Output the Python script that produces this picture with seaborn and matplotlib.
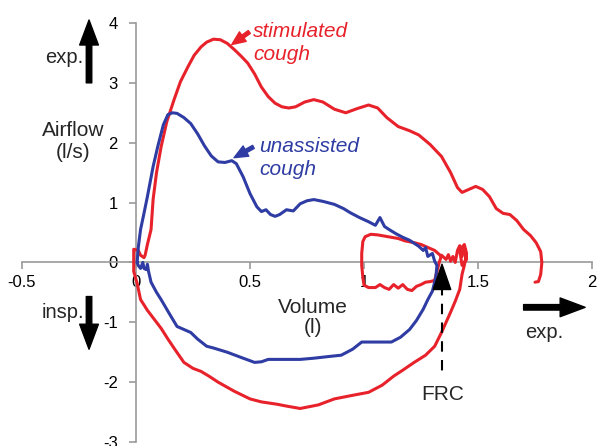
import matplotlib
matplotlib.use("Agg")
import matplotlib.pyplot as plt
import seaborn as sns
import pandas as pd

# ---- data ----
red_volume = [1.34, 1.31, 1.28, 1.25, 1.22, 1.18, 1.15, 1.12, 1.09, 1.06, 1.03, 1.005, 0.995, 0.99, 0.99, 0.995,
              1.0, 1.02, 1.05, 1.07, 1.09, 1.11, 1.13, 1.15, 1.17, 1.19, 1.21, 1.23, 1.25, 1.27, 1.29, 1.31,
              1.32, 1.33, 1.34, 1.36, 1.37, 1.38, 1.39, 1.40, 1.41, 1.42, 1.43, 1.44, 1.45, 1.43, 1.42, 1.44,
              1.45, 1.44, 1.43, 1.42, 1.40, 1.38, 1.36, 1.34, 1.31, 1.27, 1.22, 1.17, 1.13, 1.08, 1.02, 0.95,
              0.87, 0.80, 0.72, 0.66, 0.62, 0.55, 0.50, 0.43, 0.36, 0.32, 0.285, 0.25, 0.21, 0.17, 0.14, 0.11,
              0.08, 0.05, 0.02, 0.005, -0.01, -0.01, -0.01, 0.01, 0.02, 0.035, 0.04, 0.05, 0.066, 0.075, 0.09, 0.11,
              0.135, 0.167, 0.195, 0.228, 0.255, 0.285, 0.31, 0.34, 0.37, 0.40, 0.43, 0.46, 0.49, 0.52, 0.55, 0.58,
              0.61, 0.64, 0.67, 0.70, 0.74, 0.78, 0.82, 0.87,
              0.92, 0.97, 1.02, 1.06, 1.10, 1.15, 1.20, 1.24, 1.29, 1.34, 1.38, 1.41, 1.43, 1.46, 1.49, 1.52, 1.55,
              1.58, 1.61, 1.64, 1.67, 1.70, 1.73, 1.755, 1.775, 1.78, 1.775, 1.765, 1.75]
red_flow = [0.1, 0.2, 0.25, 0.3, 0.33, 0.36, 0.4, 0.42, 0.44, 0.46, 0.47, 0.43, 0.35, 0.15, -0.05, -0.25,
            -0.38, -0.42, -0.42, -0.37, -0.42, -0.45, -0.37, -0.43, -0.37, -0.45, -0.47, -0.4, -0.37, -0.33, -0.32, -0.3,
            -0.15, 0.0, 0.12, 0.05, 0.13, 0.02, 0.1, 0.0, 0.2, 0.28, 0.1, 0.25, 0.05, -0.05, 0.2, 0.3,
            0.15, -0.05, -0.2, -0.45, -0.65, -0.83, -1.0, -1.17, -1.4, -1.55, -1.67, -1.8, -1.9, -2.05, -2.17, -2.22,
            -2.28, -2.38, -2.44, -2.4, -2.37, -2.33, -2.28, -2.15, -2.0, -1.9, -1.82, -1.77, -1.67, -1.45, -1.28, -1.1,
            -0.95, -0.8, -0.62, -0.35, -0.15, 0.0, 0.22, 0.2, 0.12, 0.08, 0.12, 0.3, 0.55, 1.05, 1.5, 1.93,
            2.35, 2.72, 3.02, 3.27, 3.46, 3.6, 3.68, 3.73, 3.72, 3.66, 3.56, 3.45, 3.33, 3.15, 2.93, 2.77,
            2.66, 2.6, 2.58, 2.6, 2.68, 2.72, 2.68, 2.56,
            2.5, 2.57, 2.63, 2.58, 2.42, 2.27, 2.2, 2.13, 1.97, 1.77, 1.5, 1.25, 1.17, 1.22, 1.27, 1.22, 1.1,
            0.9, 0.82, 0.8, 0.7, 0.55, 0.45, 0.33, 0.18, 0.0, -0.2, -0.32, -0.33]

blue_volume = [0.005, 0.01, 0.02, 0.035, 0.05, 0.075, 0.095, 0.12, 0.14, 0.16, 0.18, 0.21, 0.24, 0.27, 0.30, 0.33,
               0.36, 0.39, 0.42, 0.44, 0.47, 0.50, 0.53, 0.55, 0.57, 0.59, 0.61, 0.63, 0.66, 0.69, 0.72, 0.75,
               0.78, 0.82, 0.87, 0.91, 0.94, 0.98, 1.02, 1.05, 1.07, 1.09, 1.11, 1.14, 1.17, 1.20, 1.22, 1.24,
               1.26, 1.27, 1.28, 1.30, 1.31, 1.32, 1.315, 1.30, 1.28, 1.26, 1.23, 1.20, 1.16, 1.12, 1.06, 0.99, 0.95,
               0.90, 0.85, 0.78, 0.72, 0.65, 0.58, 0.55, 0.52, 0.47, 0.40, 0.34, 0.31, 0.27, 0.24, 0.21, 0.18,
               0.15, 0.13, 0.11, 0.09, 0.066, 0.055, 0.05, 0.045, 0.035, 0.03, 0.02, 0.01, 0.005]
blue_flow = [0.0, 0.25, 0.55, 0.82, 1.1, 1.6, 1.93, 2.3, 2.47, 2.5, 2.49, 2.42, 2.32, 2.15, 1.95, 1.78,
             1.68, 1.67, 1.7, 1.65, 1.43, 1.15, 0.93, 0.85, 0.88, 0.8, 0.77, 0.8, 0.88, 0.86, 0.98, 1.03,
             1.05, 1.02, 0.97, 0.9, 0.83, 0.75, 0.68, 0.62, 0.75, 0.6, 0.55, 0.48, 0.42, 0.37, 0.32, 0.27,
             0.2, 0.25, 0.1, 0.15, 0.02, -0.05, -0.25, -0.48, -0.62, -0.78, -0.97, -1.12, -1.25, -1.33, -1.33, -1.33, -1.45,
             -1.55, -1.57, -1.6, -1.62, -1.62, -1.62, -1.66, -1.67, -1.6, -1.5, -1.43, -1.4, -1.28, -1.17, -1.12, -1.07,
             -0.88, -0.75, -0.62, -0.5, -0.33, -0.15, -0.03, -0.12, -0.1, 0.0, -0.1, -0.05, 0.0]

x_ticks = [-0.5, 0, 0.5, 1, 1.5, 2]
x_tick_labels = ["-0.5", "0", "0.5", "1", "1.5", "2"]
y_ticks = [-3, -2, -1, 0, 1, 2, 3, 4]
y_tick_labels = ["-3", "-2", "-1", "0", "1", "2", "3", "4"]

RED = "#e8222b"
BLUE = "#2e3ca3"
GRAY = "#9a9a9a"

sns.set_theme(style="white")
plt.rcParams["font.family"] = ["Liberation Sans", "DejaVu Sans"]

fig = plt.figure(figsize=(5.97, 4.46), dpi=100)
ax = fig.add_axes([22 / 597, 4 / 446, 570 / 597, 419 / 446])

red_df = pd.DataFrame({"volume": red_volume, "flow": red_flow})
blue_df = pd.DataFrame({"volume": blue_volume, "flow": blue_flow})
sns.lineplot(data=red_df, x="volume", y="flow", sort=False, estimator=None, color=RED, lw=2.2, ax=ax, zorder=3,
             solid_joinstyle="round", solid_capstyle="round")
sns.lineplot(data=blue_df, x="volume", y="flow", sort=False, estimator=None, color=BLUE, lw=2.2, ax=ax, zorder=4,
             solid_joinstyle="round", solid_capstyle="round")

ax.set_xlim(-0.5, 2)
ax.set_ylim(-3, 4)
ax.set_xlabel("")
ax.set_ylabel("")
for s in ["top", "right"]:
    ax.spines[s].set_visible(False)
ax.spines["left"].set_position(("data", 0))
ax.spines["bottom"].set_position(("data", 0))
for s in ["left", "bottom"]:
    ax.spines[s].set_color(GRAY)
    ax.spines[s].set_linewidth(1.2)
    ax.spines[s].set_zorder(1)
ax.set_xticks(x_ticks)
ax.set_xticklabels(x_tick_labels)
ax.set_yticks(y_ticks)
ax.set_yticklabels(y_tick_labels)
ax.tick_params(axis="both", direction="out", length=5, width=1.2, color=GRAY,
               labelsize=12, labelcolor="black", bottom=True, left=True)
ax.tick_params(axis="y", pad=8)
ax.tick_params(axis="x", pad=4)
ax.grid(False)

big = dict(arrowstyle="simple,head_length=1.0,head_width=0.75,tail_width=0.22",
           color="black", mutation_scale=18, shrinkA=0, shrinkB=0)
ax.annotate("", xy=(-0.206, 4.05), xytext=(-0.206, 3.0), arrowprops=big, annotation_clip=False)
ax.annotate("", xy=(-0.206, -1.45), xytext=(-0.206, -0.57), arrowprops=big, annotation_clip=False)
ax.annotate("", xy=(1.97, -0.75), xytext=(1.70, -0.75), arrowprops=big, annotation_clip=False)

ax.text(-0.316, 3.43, "exp.", ha="center", va="center", fontsize=14.5)
ax.text(-0.32, -0.83, "insp.", ha="center", va="center", fontsize=14.5)
ax.text(1.79, -1.17, "exp.", ha="center", va="center", fontsize=14.5)
ax.text(-0.276, 2.02, "Airflow\n(l/s)", ha="center", va="center", fontsize=15, linespacing=1.15)
ax.text(0.776, -0.92, "Volume\n(l)", ha="center", va="center", fontsize=15, linespacing=1.1)

# FRC marker
ax.plot([1.342, 1.342], [-0.38, -1.92], color="black", lw=1.5, dashes=(5, 4), zorder=5)
ax.annotate("", xy=(1.342, -0.03), xytext=(1.342, -0.38),
            arrowprops=dict(arrowstyle="simple,head_length=1.3,head_width=0.9,tail_width=0.1",
                            color="black", mutation_scale=14, shrinkA=0, shrinkB=0), zorder=6)
ax.text(1.346, -2.2, "FRC", ha="center", va="center", fontsize=15)

small = "simple,head_length=0.7,head_width=0.6,tail_width=0.18"
ax.annotate("", xy=(0.42, 3.64), xytext=(0.497, 3.85),
            arrowprops=dict(arrowstyle=small, color=RED, mutation_scale=14, shrinkA=0, shrinkB=0))
ax.text(0.513, 3.85, "stimulated", color=RED, style="italic", ha="left", va="center", fontsize=15)
ax.text(0.513, 3.47, "cough", color=RED, style="italic", ha="left", va="center", fontsize=15)
ax.annotate("", xy=(0.43, 1.75), xytext=(0.515, 1.93),
            arrowprops=dict(arrowstyle=small, color=BLUE, mutation_scale=14, shrinkA=0, shrinkB=0))
ax.text(0.54, 1.93, "unassisted", color=BLUE, style="italic", ha="left", va="center", fontsize=15)
ax.text(0.54, 1.55, "cough", color=BLUE, style="italic", ha="left", va="center", fontsize=15)

fig.savefig("out.png", dpi=100)
